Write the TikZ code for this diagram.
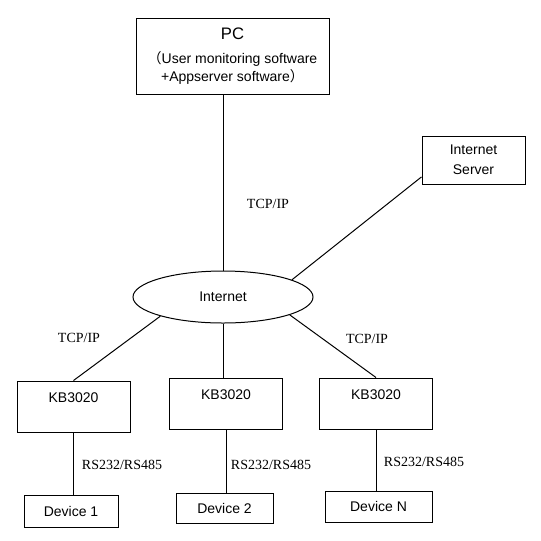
\documentclass[tikz,border=0pt]{standalone}
\usepackage{fontspec}
\setmainfont{Liberation Serif}
\newfontfamily\arial{Liberation Sans}
\newfontfamily\cjk{Noto Sans CJK SC}
\usetikzlibrary{shapes.geometric}

\begin{document}
\begin{tikzpicture}[x=0.75pt,y=0.75pt,yscale=-1,xscale=1,
  every node/.style={font=\fontsize{10.5}{13}\selectfont},
  box/.style={draw, line width=0.75pt, inner sep=0pt, font=\arial\fontsize{10.5}{13}\selectfont, align=center},
  kbbox/.style={box, minimum width=84.75pt, inner ysep=0pt, text height=15.75pt, text depth=22.5pt},
  link/.style={line width=0.75pt}]
%set diagram size to the reference
\useasboundingbox (0,0) rectangle (541,540);

%Shape: Rectangle
\draw (232.5,56) node [box, minimum width=144.75pt, minimum height=57pt] (pc) {{\fontsize{12.5}{13}\selectfont PC}\\[5pt]{\cjk （}User monitoring software\\+Appserver software{\cjk ）}};
%Shape: Rectangle
\draw (473.5,160) node [box, minimum width=77.25pt, minimum height=36pt] (srv) {Internet\\[2pt]Server};
%Shape: Ellipse
\draw (223,297) node [ellipse, draw, line width=0.75pt, inner sep=0pt, minimum width=135pt, minimum height=39pt, font=\arial\fontsize{10.5}{13}\selectfont] (inet) {Internet};

%Shape: Rectangle
\draw (73.5,406.5) node [kbbox] (kb1) {KB3020};
\draw (226,403.5) node [kbbox] (kb2) {KB3020};
\draw (376,403.5) node [kbbox] (kb3) {KB3020};

%Shape: Rectangle
\draw (71,511) node [box, minimum width=70.5pt, minimum height=24pt] (dev1) {Device 1};
\draw (224.5,508) node [box, minimum width=72.75pt, minimum height=22.5pt] (dev2) {Device 2};
\draw (378.5,506.5) node [box, minimum width=80.25pt, minimum height=23.25pt] (devn) {Device N};

%Straight Lines
\draw [link] (inet.north |- pc.south) -- (inet.north) ;
\draw [link] (inet.14) -- (srv.198) ;
\draw [link] (inet.197) -- (kb1.north) ;
\draw [link] (inet.south) -- (inet.south |- kb2.north) ;
\draw [link] (inet.-15) -- (kb3.north) ;
\draw [link] (kb1.south) -- (kb1.south |- dev1.north) ;
\draw [link] (kb2.south) -- (kb2.south |- dev2.north) ;
\draw [link] (kb3.south) -- (kb3.south |- devn.north) ;

% Text Node
\draw (268,204) node [inner sep=0.75pt] (tcp0) {TCP/IP};
% Text Node
\draw (79,338) node [inner sep=0.75pt] (tcp1) {TCP/IP};
% Text Node
\draw (367,339) node [inner sep=0.75pt] (tcp3) {TCP/IP};
% Text Node
\draw (122,465) node [inner sep=0.75pt] (rs1) {RS232/RS485};
% Text Node
\draw (271,465) node [inner sep=0.75pt] (rs2) {RS232/RS485};
% Text Node
\draw (424,462) node [inner sep=0.75pt] (rs3) {RS232/RS485};

\end{tikzpicture}
\end{document}
